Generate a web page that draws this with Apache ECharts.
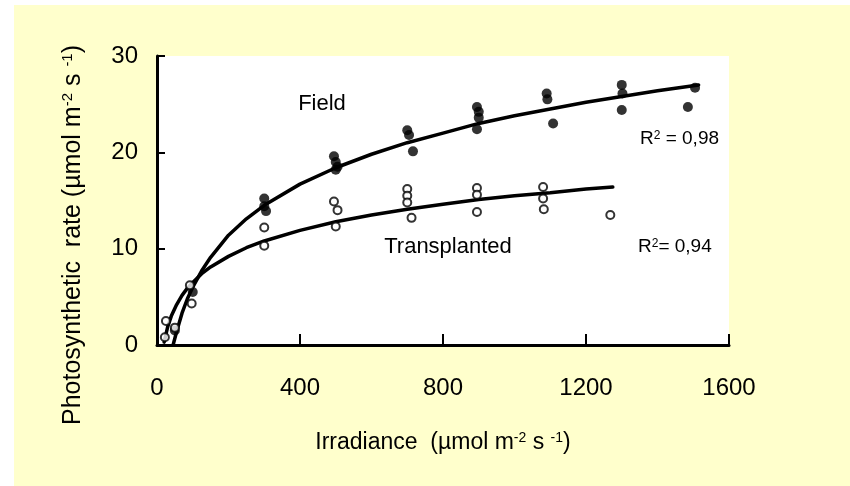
<!DOCTYPE html>
<html>
<head>
<meta charset="utf-8">
<script src="https://cdn.jsdelivr.net/npm/echarts@6/dist/echarts.min.js"></script>
<style>
  html, body { margin: 0; padding: 0; background: #ffffff; }
  #wrap { position: relative; width: 850px; height: 486px; }
  #bg { position: absolute; left: 14px; top: 5px; width: 836px; height: 481px; background: #FFFFCC; }
  #chart { position: absolute; left: 0; top: 0; width: 850px; height: 486px; }
</style>
</head>
<body>
<div id="wrap"><div id="bg"></div><div id="chart"></div></div>
<script>
// Field-grown plants: irradiance (µmol m-2 s-1) and photosynthetic rate
const fieldX = [50, 100, 300, 300, 305, 495, 500, 505, 500, 700, 705, 716, 895, 900, 900, 895, 1090, 1092, 1108, 1300, 1302, 1300, 1505, 1485];
const fieldY = [1.5, 5.5, 15.2, 14.4, 13.9, 19.6, 19.0, 18.5, 18.2, 22.3, 21.8, 20.1, 24.7, 24.2, 23.6, 22.4, 26.1, 25.5, 23.0, 27.0, 26.1, 24.4, 26.7, 24.7];

// Transplanted plants
const transX = [22, 25, 50, 92, 97, 300, 300, 495, 505, 500, 700, 700, 700, 712, 895, 895, 895, 1080, 1080, 1082, 1268];
const transY = [0.8, 2.5, 1.8, 6.2, 4.3, 12.2, 10.3, 14.9, 14.0, 12.3, 16.2, 15.5, 14.8, 13.2, 16.3, 15.6, 13.8, 16.4, 15.2, 14.1, 13.5];

// Fitted light-response curves
const fieldCurveX = [45, 55, 70, 85, 100, 125, 150, 200, 250, 300, 400, 500, 600, 700, 800, 900, 1000, 1100, 1200, 1300, 1400, 1515];
const fieldCurveY = [0, 1.4, 3.3, 4.8, 6.0, 7.7, 9.1, 11.4, 13.1, 14.5, 16.7, 18.4, 19.8, 21.0, 22.0, 23.0, 23.8, 24.5, 25.2, 25.8, 26.4, 27.0];
const transCurveX = [20, 30, 40, 55, 70, 85, 100, 125, 150, 200, 250, 300, 400, 500, 600, 700, 800, 900, 1000, 1100, 1200, 1275];
const transCurveY = [0.3, 1.9, 3.0, 4.2, 5.15, 5.9, 6.5, 7.4, 8.1, 9.2, 10.1, 10.8, 11.9, 12.8, 13.5, 14.1, 14.6, 15.1, 15.5, 15.8, 16.2, 16.4];

const xRange = [0, 1600, 400];
const yRange = [0, 30, 10];

const pairs = (xs, ys) => xs.map((x, i) => [x, ys[i]]);
const FONT = "'Liberation Sans', Arial, sans-serif";
const supStyle = (size) => ({ fontSize: size, fontFamily: FONT, color: '#000', verticalAlign: 'top' });

const chart = echarts.init(document.getElementById('chart'), null, { renderer: 'canvas' });

chart.setOption({
  animation: false,
  backgroundColor: 'transparent',
  grid: {
    left: 157, top: 56, width: 572, height: 289,
    show: true, backgroundColor: '#ffffff', borderWidth: 0
  },
  xAxis: {
    type: 'value', min: xRange[0], max: xRange[1], interval: xRange[2],
    axisLine: { show: true, onZero: false, lineStyle: { color: '#000', width: 3 } },
    axisTick: { show: true, inside: true, length: 11, lineStyle: { color: '#000', width: 2 } },
    axisLabel: { color: '#000', fontSize: 24, fontFamily: FONT, margin: 31, formatter: v => String(v) },
    splitLine: { show: false }
  },
  yAxis: {
    type: 'value', min: yRange[0], max: yRange[1], interval: yRange[2],
    axisLine: { show: true, onZero: false, lineStyle: { color: '#000', width: 3 } },
    axisTick: { show: true, inside: true, length: 8, lineStyle: { color: '#000', width: 2 } },
    axisLabel: { color: '#000', fontSize: 24, fontFamily: FONT, margin: 19, formatter: v => String(v) },
    splitLine: { show: false }
  },
  series: [
    {
      name: 'Field curve', type: 'line', data: pairs(fieldCurveX, fieldCurveY),
      smooth: false, showSymbol: false, silent: true,
      lineStyle: { color: '#000', width: 3.5, join: 'round', cap: 'round' }, z: 2
    },
    {
      name: 'Transplanted curve', type: 'line', data: pairs(transCurveX, transCurveY),
      smooth: false, showSymbol: false, silent: true,
      lineStyle: { color: '#000', width: 3.5, join: 'round', cap: 'round' }, z: 2
    },
    {
      name: 'Field', type: 'scatter', data: pairs(fieldX, fieldY),
      symbol: 'circle', symbolSize: 10,
      itemStyle: { color: '#000' }, z: 3
    },
    {
      name: 'Transplanted', type: 'scatter', data: pairs(transX, transY),
      symbol: 'circle', symbolSize: 8,
      itemStyle: { color: '#fff', borderColor: '#000', borderWidth: 2 }, z: 4
    }
  ],
  graphic: [
    {
      type: 'text', x: 443, y: 443,
      style: {
        text: 'Irradiance  (µmol m{sup|-2} s {sup|-1})',
        font: '23px ' + FONT, fill: '#000', textAlign: 'center', textVerticalAlign: 'middle',
        rich: { sup: supStyle(14) }
      }
    },
    {
      type: 'text', x: 73, y: 235, rotation: Math.PI / 2,
      style: {
        text: 'Photosynthetic  rate (µmol m{sup|-2} s {sup|-1})',
        font: '25px ' + FONT, fill: '#000', textAlign: 'center', textVerticalAlign: 'middle',
        rich: { sup: supStyle(15) }
      }
    },
    {
      type: 'text', x: 322, y: 104,
      style: { text: 'Field', font: '22px ' + FONT, fill: '#000', textAlign: 'center', textVerticalAlign: 'middle' }
    },
    {
      type: 'text', x: 448, y: 247,
      style: { text: 'Transplanted', font: '22px ' + FONT, fill: '#000', textAlign: 'center', textVerticalAlign: 'middle' }
    },
    {
      type: 'text', x: 640, y: 139,
      style: {
        text: 'R{sup|2} = 0,98', font: '19px ' + FONT, fill: '#000', textAlign: 'left', textVerticalAlign: 'middle',
        rich: { sup: supStyle(12) }
      }
    },
    {
      type: 'text', x: 638, y: 247,
      style: {
        text: 'R{sup|2}= 0,94', font: '19px ' + FONT, fill: '#000', textAlign: 'left', textVerticalAlign: 'middle',
        rich: { sup: supStyle(12) }
      }
    }
  ]
});
</script>
</body>
</html>
